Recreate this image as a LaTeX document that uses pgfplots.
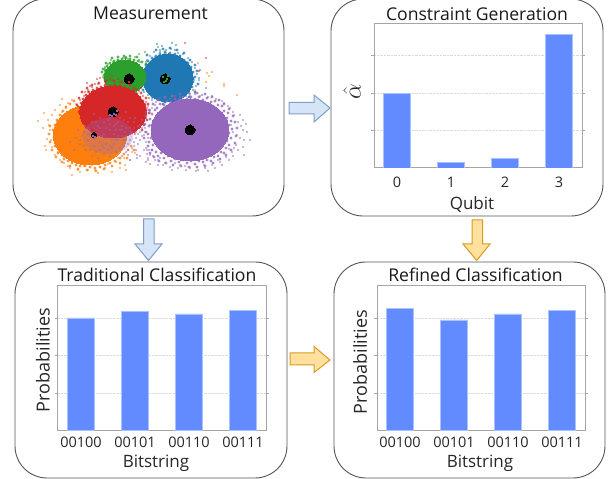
\documentclass[border=0pt]{standalone}
\usepackage{pgfplots}
\usepackage{fontspec}
\setmainfont[Numbers=Lining]{Open Sans}
\pgfplotsset{compat=1.18}
\definecolor{barblue}{RGB}{97,139,255}
\definecolor{baredge}{RGB}{170,195,255}
\definecolor{framegr}{RGB}{165,165,165}
\definecolor{boxgr}{RGB}{85,85,85}
\definecolor{cblue}{RGB}{31,119,180}
\definecolor{corange}{RGB}{255,127,14}
\definecolor{cgreen}{RGB}{44,160,44}
\definecolor{cred}{RGB}{214,39,40}
\definecolor{cpurple}{RGB}{148,103,189}
\definecolor{arbF}{RGB}{214,228,247}
\definecolor{arbD}{RGB}{125,158,205}
\definecolor{argF}{RGB}{255,224,158}
\definecolor{argD}{RGB}{216,155,30}
\pgfplotsset{
  barax/.style={
    scale only axis, width=208pt, height=144.5pt, anchor=south west,
    ybar, bar width=27pt, bar shift=0pt,
    xmin=-0.426, xmax=3.426, ymin=0, ymax=3.86,
    xtick={0,1,2,3}, ytick={1,2,3}, yticklabels={},
    ymajorgrids, grid style={densely dotted, black!14, line width=.5pt},
    axis line style={framegr, line width=1pt},
    xtick style={draw=none},
    ytick style={framegr, line width=.5pt},
    tick align=outside, major tick length=3pt,
    tick label style={font=\fontsize{14.5}{16}\selectfont, text=black!85},
    label style={font=\fontsize{17}{18}\selectfont, text=black!85},
    title style={font=\fontsize{17.6}{18}\selectfont, text=black!90, at={(axis description cs:0.5,1)}, anchor=south},
    xlabel style={at={(axis description cs:0.5,0)}, anchor=center},
    ylabel style={at={(axis description cs:0,0.5)}, anchor=center},
  },
  barstyle/.style={fill=barblue, draw=baredge, line width=.6pt},
  sdots/.style={only marks, mark=*, mark size=1.1pt, mark options={draw=#1, line width=0pt, fill=#1, draw opacity=0, fill opacity=.65}},
  edots/.style={only marks, mark=*, mark size=1.7pt, mark options={draw=#1, line width=0pt, fill=#1, draw opacity=0, fill opacity=.8}},
  core/.style args={#1/#2/#3}{only marks, mark=*, mark size=#2pt, mark options={draw=#1, line width=0pt, fill=#1, xscale=#3}},
}
\begin{document}
\begin{tikzpicture}[x=1pt,y=1pt]
\path[use as bounding box] (0,0) rectangle (611,479);
% boxes
\draw[boxgr, line width=.9pt, rounded corners=32pt] (13,263) rectangle (284,480);
\draw[boxgr, line width=.9pt, rounded corners=32pt] (331,263) rectangle (603,480);
\draw[boxgr, line width=.9pt, rounded corners=32pt] (15,1) rectangle (287,217);
\draw[boxgr, line width=.9pt, rounded corners=32pt] (334,1) rectangle (605,217);
% arrows
\draw[arbD, fill=arbF, line width=1pt, line join=miter] (289,376.5)--(314,376.5)--(314,384)--(330,371)--(314,357)--(314,365)--(289,365)--cycle;
\draw[arbD, fill=arbF, line width=1pt, line join=miter] (143.5,260)--(143.5,235)--(135,235)--(148.5,218.5)--(162,235)--(154,235)--(154,260)--cycle;
\draw[argD, fill=argF, line width=1pt, line join=miter] (472,259)--(472,235)--(463,235)--(476.7,218.5)--(490,235)--(482.7,235)--(482.7,259)--cycle;
\draw[argD, fill=argF, line width=1pt, line join=miter] (290,126)--(314,126)--(314,132.5)--(330,119)--(314,106.5)--(314,114)--(290,114)--cycle;
\node[font=\fontsize{17.6}{18}\selectfont, text=black!90] at (150.5,466) {Measurement};

% scatter
\begin{axis}[at={(0pt,0pt)}, anchor=south west, scale only axis, width=611pt, height=479pt,
  xmin=0, xmax=611, ymin=0, ymax=479, y dir=reverse, axis lines=none, clip=false]
% blue
\addplot[core={cblue/24/1.05}] coordinates {(168,78)};
\addplot[sdots=cblue] coordinates {(157,44)(162,46)(172,43)(176,45)(166,50)(154,52)(150,56)(147,60)(160,52)(175,50)(183,54)(188,58)(192,62)(195,68)(197,74)(199,80)(196,86)(193,90)(190,94)(186,96)(180,99)(172,101)(165,102)(158,100)(152,98)(148,95)(144,92)(180,56)(187,62)(191,72)(194,80)(191,84)(155,57)(171,49)(164,54)(178,53)(146,66)(145,72)(188,92)(200,70)(206,88)(202,95)(199,78)};
\addplot[edots=cblue] coordinates {(144,70)(146,65)(148,61)(152,58)(156,56)(160,54)(165,52)(170,53)(175,54)(180,56)(184,60)(188,63)(191,67)(193,72)(195,77)(193,82)(192,87)(188,91)(185,95)(180,98)(175,100)(170,99)(165,102)(160,100)(155,98)(151,95)(148,91)(145,87)(143,90)(147,55)(156,50)(163,49)(170,48)(177,50)(184,53)(190,60)(195,65)(197,71)(198,84)(195,92)(189,97)(181,101)(173,104)(163,104)};
\addplot[sdots=corange] coordinates {(207,73)(209,76)(212,72)(206,82)(224,84)(224,86)(237,95)(195,90)(198,63)};
\addplot[sdots=cred] coordinates {(185,43)(206,58)(175,97)(199,71)};
% orange
\addplot[core={corange/30/1.22}] coordinates {(90,135)};
\addplot[sdots=corange] coordinates {(38,121)(44,113)(48,120)(50,130)(47,139)(52,147)(46,150)(55,155)(60,160)(64,163)(70,168)(72,175)(80,172)(88,170)(98,173)(105,168)(112,172)(120,168)(125,165)(130,160)(135,153)(62,99)(68,103)(60,105)(55,110)(52,115)(57,122)(49,125)(43,128)(51,140)(56,141)(58,152)(64,157)(75,162)(84,166)(92,165)(100,167)(108,164)(116,162)(124,158)(132,152)(62,112)(66,108)(72,100)(76,104)(54,133)(45,146)(78,170)(95,170)(126,170)(70,158)(61,145)(68,166)(90,163)(118,158)};
\addplot[edots=corange] coordinates {(55,125)(53,130)(56,134)(54,138)(57,142)(55,146)(59,149)(58,153)(62,155)(64,159)(68,161)(72,163)(76,165)(80,166)(85,166)(90,167)(95,168)(100,167)(105,165)(110,163)(115,161)(120,158)(124,154)(128,150)(131,146)(57,120)(60,115)(63,111)(66,107)(70,104)(74,101)(50,126)(49,134)(50,142)(52,150)(56,157)(62,162)(70,166)(78,169)(87,170)(96,171)(104,169)(112,166)(120,163)(127,158)(134,150)};
% green
\addplot[core={cgreen/17/1.22}] coordinates {(125,77)};
\addplot[sdots=cgreen] coordinates {(105,67)(108,64)(113,62)(118,60)(123,58)(128,59)(134,60)(140,62)(105,72)(106,78)(109,84)(114,90)(120,94)(126,96)(132,95)(139,60)(126,57)(139,54)(145,52)(160,50)(166,53)(158,47)(103,77)(108,72)(111,60)(117,64)(130,61)(146,62)(105,68)(112,87)(125,58)(121,62)(135,57)};
\addplot[edots=cgreen] coordinates {(105,70)(107,66)(110,63)(114,61)(118,60)(122,59)(126,58)(130,59)(134,60)(138,61)(142,62)(146,64)(104,75)(105,80)(107,84)(110,87)(113,89)(117,91)(121,93)(125,94)(128,95)(132,94)(136,93)(102,72)(103,69)(106,63)(112,58)(118,57)(124,56)(130,56)(137,57)};
% red
\addplot[core={cred/26/1.28}] coordinates {(113,112)};
\addplot[sdots=cred] coordinates {(78,106)(80,100)(84,96)(88,90)(92,87)(98,84)(105,82)(112,80)(120,82)(128,84)(134,87)(139,91)(143,96)(146,102)(147,108)(146,115)(143,122)(139,128)(135,134)(82,116)(86,124)(88,92)(90,86)(97,79)(104,78)(112,76)(100,78)(118,79)(133,89)(150,110)(146,118)(145,104)(149,98)(87,83)(95,84)(141,88)(142,112)(110,79)(127,80)(85,92)};
\addplot[edots=cred] coordinates {(80,108)(81,103)(83,99)(86,95)(89,92)(93,90)(97,88)(101,87)(105,85)(110,86)(115,85)(120,86)(125,87)(129,89)(133,91)(137,94)(140,97)(143,101)(145,105)(146,110)(145,115)(147,120)(144,125)(142,130)(79,112)(81,118)(77,105)(79,98)(82,92)(87,88)(92,85)(99,83)(106,81)(114,81)(122,82)(130,85)(136,89)(141,93)(146,98)(148,104)(149,113)};
% purple
\addplot[only marks, mark=*, mark size=18pt, mark options={draw=cpurple, line width=0pt, fill=cpurple, draw opacity=0, fill opacity=.3, xscale=1.4}] coordinates {(108,136)};
\addplot[sdots=cpurple] coordinates {(85,126)(90,130)(96,122)(100,128)(104,134)(110,124)(116,130)(122,126)(128,122)(134,128)(138,134)(130,140)(124,146)(118,140)(112,148)(106,144)(100,150)(94,146)(88,140)(82,136)(78,130)(80,144)(86,150)(92,156)(98,158)(104,154)(110,156)(116,152)(122,156)(128,150)(134,146)(140,140)(136,150)(76,138)(70,142)(74,150)(125,132)(108,120)(94,114)(100,118)(120,118)(126,112)(135,118)(142,120)(145,132)(128,155)(130,160)(137,155)(144,150)(147,154)(140,156)(148,158)(150,164)(146,162)(137,158)(147,150)};
\addplot[sdots=cpurple] coordinates {(118,122)(122,130)(126,136)(130,128)(134,122)(138,126)(142,128)(114,134)(110,130)(106,128)(102,136)(98,134)(94,128)(92,122)(88,128)(84,132)(80,140)(84,146)(90,150)(96,152)(102,146)(108,150)(114,144)(120,148)(126,152)(132,148)(138,144)(142,136)(136,138)(130,134)(124,140)(118,136)(112,140)(106,138)(100,142)(94,138)(88,134)(110,118)(116,124)(104,122)(98,126)(124,120)(130,118)(128,144)(134,142)(120,130)(114,126)(122,136)(126,128)(132,132)(136,132)(140,132)(116,140)(110,146)(104,148)};
\addplot[core={cpurple/31/1.25}] coordinates {(190,130)};
\addplot[sdots=cpurple] coordinates {(150,112)(147,120)(145,128)(144,135)(146,142)(149,150)(153,156)(158,160)(163,165)(170,167)(178,168)(186,170)(196,171)(205,168)(212,165)(220,162)(226,157)(232,152)(236,145)(240,138)(243,130)(238,122)(234,115)(230,108)(224,103)(216,99)(208,97)(200,96)(190,96)(180,97)(170,99)(162,101)(155,105)(152,108)(156,102)(165,98)(175,96)(195,94)(212,96)(222,101)(228,106)(233,112)(240,115)(243,120)(246,124)(241,126)(247,132)(250,140)(244,140)(243,147)(244,155)(238,150)(233,156)(229,160)(222,165)(215,168)(208,171)(198,170)(190,168)(180,165)(172,170)(165,163)(158,165)(155,160)(150,155)(146,148)(148,160)(142,130)(140,125)(146,112)(148,106)(152,100)(160,98)(234,148)(237,135)(231,125)(233,132)(229,149)(218,160)(204,165)(185,166)(175,163)(160,158)(152,150)(148,138)(150,125)};
\addplot[edots=cpurple] coordinates {(155,110)(152,114)(150,119)(153,123)(149,126)(152,130)(148,134)(151,138)(149,142)(153,145)(152,150)(156,152)(158,156)(161,153)(164,158)(168,156)(171,161)(175,159)(179,162)(183,160)(187,163)(191,161)(195,164)(199,161)(203,162)(207,160)(211,161)(214,157)(218,156)(221,152)(224,153)(226,148)(229,145)(227,141)(231,138)(229,133)(232,129)(229,125)(231,121)(227,118)(228,113)(224,111)(222,106)(218,105)(215,101)(211,102)(207,98)(203,100)(199,97)(195,99)(191,97)(187,99)(183,97)(179,100)(175,99)(171,102)(167,101)(164,105)(160,104)(157,108)(146,116)(145,124)(144,138)(146,132)(148,146)(150,153)(154,157)(159,161)(166,163)(173,165)(181,166)(189,167)(197,167)(205,166)(213,163)(220,159)(226,155)(231,150)(235,143)(236,136)(237,128)(235,122)(233,116)(229,109)(224,104)(219,100)(212,97)(205,94)(197,93)(189,93)(180,94)(172,96)(165,97)(158,100)(153,104)(149,110)};
% black
\addplot[core={black/5/1}] coordinates {(129,79)(165,79)(113,112)(190,130)};
\addplot[core={black/2.5/1}] coordinates {(94,135)};
\addplot[only marks, mark=*, mark size=.7pt, mark options={draw=cgreen, line width=0pt, fill=cgreen}] coordinates {(163,77)(166,81)(168,76)(164,82)(167,79)};
\addplot[only marks, mark=*, mark size=.8pt, mark options={draw=cpurple, line width=0pt, fill=cpurple}] coordinates {(110,115)(114,114)(117,111)(112,116)(116,115)(95,137)(93,136)};
\addplot[only marks, mark=*, mark size=.7pt, mark options={draw=cred, line width=0pt, fill=cred}] coordinates {(129,82)(92,130)};
\end{axis}

% Constraint generation
\begin{axis}[barax, at={(374pt,311pt)}, title={Constraint Generation},
  title style={yshift=-7pt, xshift=-1pt},
  xticklabels={0,1,2,3}, xlabel={Qubit},
  xlabel style={yshift=-36pt, xshift=-6pt},
  ylabel={\fontsize{24}{24}\selectfont$\hat{\alpha}$},
  ylabel style={yshift=22pt, xshift=4pt},
  xticklabel style={yshift=-2pt, text height=11pt}]
\addplot[barstyle] coordinates {(0,2.0)(1,0.16)(2,0.25)(3,3.56)};
\end{axis}

% Traditional
\begin{axis}[barax, at={(58pt,48.7pt)}, title={Traditional Classification},
  title style={yshift=-5pt, xshift=-5pt},
  xticklabels={00100,00101,00110,\raisebox{2pt}{00111}}, xlabel={Bitstring},
  xlabel style={yshift=-33pt, xshift=-6pt},
  ylabel={\fontsize{18}{18}\selectfont Probabilities},
  ylabel style={yshift=15pt, xshift=-2pt}]
\addplot[barstyle] coordinates {(0,3.0)(1,3.17)(2,3.11)(3,3.2)};
\end{axis}

% Refined
\begin{axis}[barax, at={(377pt,48.7pt)}, title={Refined Classification},
  title style={yshift=-5pt, xshift=-5.5pt},
  xticklabels={00100,00101,00110,\raisebox{2pt}{00111}}, xlabel={Bitstring},
  xlabel style={yshift=-33pt, xshift=-1pt},
  ylabel={\fontsize{18}{18}\selectfont Probabilities},
  ylabel style={yshift=17pt, xshift=-4pt}]
\addplot[barstyle] coordinates {(0,3.25)(1,2.95)(2,3.11)(3,3.2)};
\end{axis}
\end{tikzpicture}
\end{document}
